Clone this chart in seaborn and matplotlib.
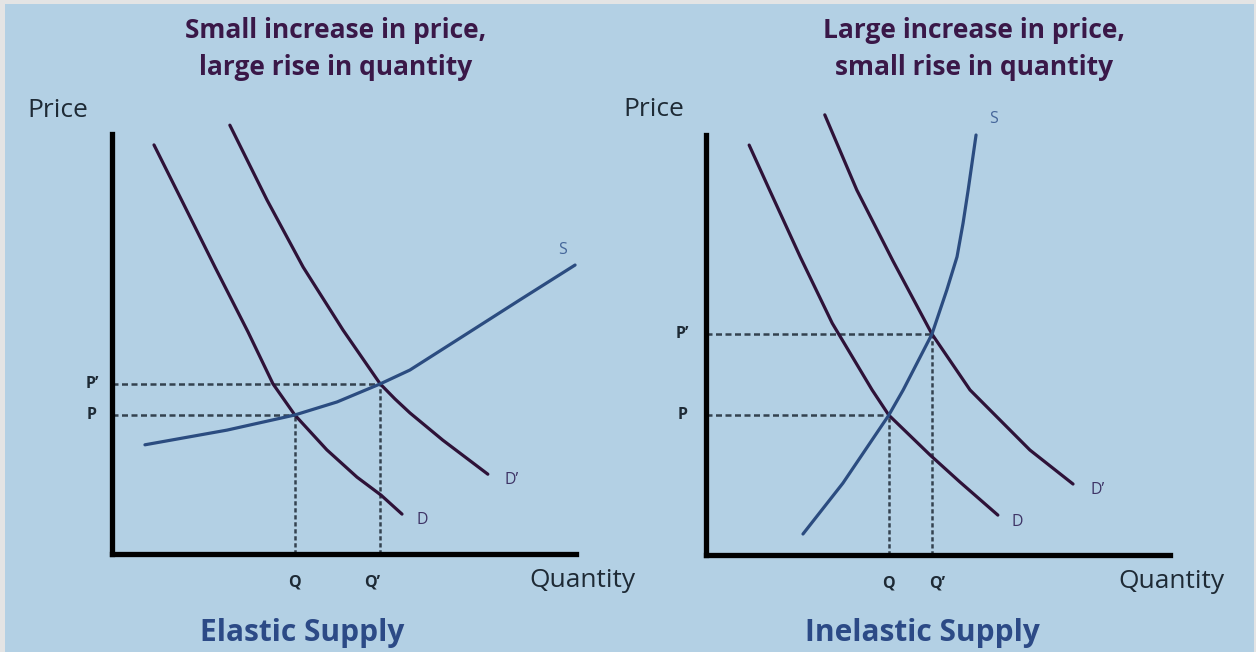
import matplotlib
matplotlib.use("Agg")
import matplotlib.pyplot as plt
import seaborn as sns
import pandas as pd
from matplotlib.patches import Rectangle

# ---------------- data (quantity, price units 0-10) ----------------
# Left panel: elastic supply
el_d_q = [0.905, 1.53, 2.22, 2.93, 3.47, 3.94, 4.63, 5.28, 5.80, 6.25]
el_d_p = [9.74, 8.36, 6.83, 5.29, 4.05, 3.31, 2.48, 1.83, 1.40, 0.95]
el_d2_q = [2.54, 3.34, 4.12, 4.98, 5.78, 6.10, 6.42, 7.13, 8.10]
el_d2_p = [10.21, 8.43, 6.83, 5.33, 4.05, 3.69, 3.36, 2.71, 1.90]
el_s_q = [0.71, 2.48, 3.94, 4.85, 5.78, 6.42, 7.50, 8.79, 9.98]
el_s_p = [2.60, 2.95, 3.31, 3.62, 4.05, 4.38, 5.14, 6.05, 6.88]
el_P, el_P2, el_Q, el_Q2 = 3.31, 4.05, 3.94, 5.78

# Right panel: inelastic supply
in_d_q = [0.93, 1.37, 2.03, 2.72, 3.58, 3.94, 4.83, 5.47, 6.29]
in_d_p = [9.76, 8.69, 7.10, 5.52, 3.93, 3.33, 2.38, 1.74, 0.95]
in_d2_q = [2.56, 3.25, 4.03, 4.87, 5.69, 6.98, 7.91]
in_d2_p = [10.48, 8.69, 7.00, 5.26, 3.93, 2.50, 1.69]
in_s_q = [2.09, 2.95, 3.94, 4.25, 4.87, 5.19, 5.41, 5.54, 5.65, 5.82]
in_s_p = [0.50, 1.71, 3.33, 3.93, 5.26, 6.31, 7.10, 7.90, 8.69, 10.0]
in_P, in_P2, in_Q, in_Q2 = 3.33, 5.26, 3.94, 4.87

titles = ["Small increase in price,\nlarge rise in quantity",
          "Large increase in price,\nsmall rise in quantity"]
subtitles = ["Elastic Supply", "Inelastic Supply"]
curve_labels = ["D", "D\u2019", "S"]
eq_labels = ["P", "P\u2019", "Q", "Q\u2019"]
axis_labels = ["Price", "Quantity"]

# ---------------- style ----------------
sns.set_theme(style="white")
plt.rcParams['font.family'] = ['Open Sans', 'DejaVu Sans']

BG = "#b3d0e4"
BORDER = "#e4e4e4"
DCOL = "#2e1238"
SCOL = "#2b4c80"
DASH = "#34424f"
TITLE_COL = "#3a1848"
SUB_COL = "#2c4a86"
TXT = "#1e2a35"

W, H = 1256, 652
fig = plt.figure(figsize=(W / 100, H / 100), dpi=100, facecolor=BORDER)
fig.patches.append(Rectangle((5 / W, 0), (1254 - 5) / W, (H - 4) / H,
                             transform=fig.transFigure, facecolor=BG,
                             edgecolor="none", zorder=-10))

panels = [
    dict(orig=(112, 554), d=(el_d_q, el_d_p), d2=(el_d2_q, el_d2_p), s=(el_s_q, el_s_p),
         P=el_P, P2=el_P2, Q=el_Q, Q2=el_Q2, q2off=-0.17,
         plab_x=-0.43, dlab=(6.68, 0.81), d2lab=(8.62, 1.76), slab=(9.70, 7.24),
         price=(-1.16, 10.57), qty=(10.13, -0.62),
         title_x=336, sub_x=302),
    dict(orig=(706, 555), d=(in_d_q, in_d_p), d2=(in_d2_q, in_d2_p), s=(in_s_q, in_s_p),
         P=in_P, P2=in_P2, Q=in_Q, Q2=in_Q2, q2off=0.12,
         plab_x=-0.51, dlab=(6.70, 0.79), d2lab=(8.43, 1.55), slab=(6.19, 10.38),
         price=(-1.12, 10.6), qty=(10.03, -0.64),
         title_x=974, sub_x=922),
]

for i, pn in enumerate(panels):
    ox, oy = pn["orig"]
    ax = fig.add_axes([ox / W, (H - oy) / H, 464 / W, 420 / H])
    ax.set_facecolor("none")
    ax.set_xlim(0, 10)
    ax.set_ylim(0, 10)
    for side in ["top", "right"]:
        ax.spines[side].set_visible(False)
    for side in ["left", "bottom"]:
        ax.spines[side].set_color("black")
        ax.spines[side].set_linewidth(3.8)
        ax.spines[side].set_capstyle("projecting")
    ax.set_xticks([])
    ax.set_yticks([])

    # dashed guides
    for p, q in [(pn["P"], pn["Q"]), (pn["P2"], pn["Q2"])]:
        ax.plot([0, q], [p, p], color=DASH, lw=1.8, dashes=(2.4, 1.4), zorder=2)
        ax.plot([q, q], [0, p], color=DASH, lw=1.8, dashes=(1.7, 1.1), zorder=2)

    for key, col in [("d", DCOL), ("d2", DCOL), ("s", SCOL)]:
        qv, pv = pn[key]
        df = pd.DataFrame({"q": qv, "p": pv})
        sns.lineplot(data=df, x="q", y="p", ax=ax, sort=False, estimator=None,
                     color=col, lw=2.3, zorder=3, clip_on=False,
                     solid_joinstyle="round", solid_capstyle="round")
    ax.set_xlabel("")
    ax.set_ylabel("")

    # labels
    lab_kw = dict(fontsize=11.5, fontweight="bold", color=TXT, ha="center", va="center")
    ax.text(pn["plab_x"], pn["P"], eq_labels[0], **lab_kw)
    ax.text(pn["plab_x"], pn["P2"], eq_labels[1], **lab_kw)
    ax.text(pn["Q"], -0.67, eq_labels[2], **lab_kw)
    ax.text(pn["Q2"] + pn["q2off"], -0.67, eq_labels[3], **lab_kw)

    ax.text(*pn["dlab"], curve_labels[0], fontsize=11.5, color="#3e3466", ha="center", va="center")
    ax.text(*pn["d2lab"], curve_labels[1], fontsize=11.5, color="#3e3466", ha="center", va="center")
    ax.text(*pn["slab"], curve_labels[2], fontsize=11.5, color="#45669a", ha="center", va="center")

    ax.text(*pn["price"], axis_labels[0], fontsize=19, color=TXT, ha="center", va="center")
    ax.text(*pn["qty"], axis_labels[1], fontsize=19, color=TXT, ha="center", va="center")

    fig.text(pn["title_x"] / W, 1 - 49 / H, titles[i], fontsize=19, fontweight="bold",
             color=TITLE_COL, ha="center", va="center", linespacing=1.45)
    fig.text(pn["sub_x"] / W, 1 - 633 / H, subtitles[i], fontsize=21.5, fontweight="bold",
             color=SUB_COL, ha="center", va="center")

fig.savefig("out.png", dpi=100, facecolor=fig.get_facecolor())
